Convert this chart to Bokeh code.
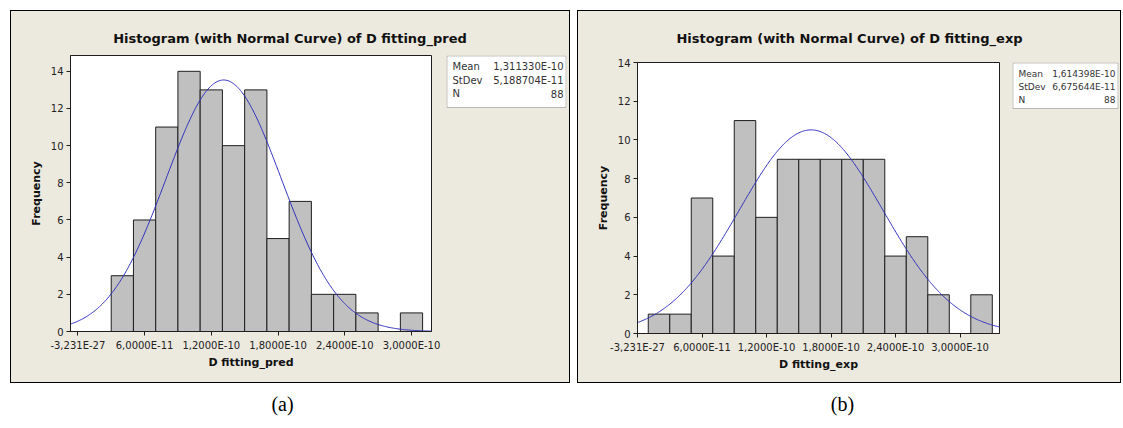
import numpy as np
from bokeh.plotting import figure
from bokeh.models import (Range1d, FixedTicker, CustomJSTickFormatter, Label,
                          Spacer, ColumnDataSource, BoxAnnotation)
from bokeh.layouts import row, column
from bokeh.embed import file_html
from bokeh.resources import INLINE

# ---------------- data ----------------
BIN_WIDTH = 2e-11
PRED_CENTERS = [4e-11, 6e-11, 8e-11, 1.0e-10, 1.2e-10, 1.4e-10, 1.6e-10,
                1.8e-10, 2.0e-10, 2.2e-10, 2.4e-10, 2.6e-10, 2.8e-10, 3.0e-10]
PRED_COUNTS = [3, 6, 11, 14, 13, 10, 13, 5, 7, 2, 2, 1, 0, 1]
EXP_CENTERS = [2e-11, 4e-11, 6e-11, 8e-11, 1.0e-10, 1.2e-10, 1.4e-10, 1.6e-10,
               1.8e-10, 2.0e-10, 2.2e-10, 2.4e-10, 2.6e-10, 2.8e-10, 3.0e-10, 3.2e-10]
EXP_COUNTS = [1, 1, 7, 4, 11, 6, 9, 9, 9, 9, 9, 4, 5, 2, 0, 2]

PRED_MEAN, PRED_SD, PRED_N = 1.311330e-10, 5.188704e-11, 88
EXP_MEAN, EXP_SD, EXP_N = 1.614398e-10, 6.675644e-11, 88
STAT_NAMES = ["Mean", "StDev", "N"]
PRED_STAT_VALUES = ["1,311330E-10", "5,188704E-11", "88"]
EXP_STAT_VALUES = ["1,614398E-10", "6,675644E-11", "88"]

X_TICKS = [0.0, 6e-11, 1.2e-10, 1.8e-10, 2.4e-10, 3.0e-10]
X_TICK_LABELS = ["-3,231E-27", "6,0000E-11", "1,2000E-10", "1,8000E-10",
                 "2,4000E-10", "3,0000E-10"]
Y_TICKS = [0, 2, 4, 6, 8, 10, 12, 14]

TITLES = ["Histogram (with Normal Curve) of D fitting_pred",
          "Histogram (with Normal Curve) of D fitting_exp"]
XLABELS = ["D fitting_pred", "D fitting_exp"]
YLABEL = "Frequency"
CAPTIONS = ["(a)", "(b)"]

# ---------------- style ----------------
BEIGE = "#ECE9DF"
BAR_FILL = "#C0C0C0"
DARK = "#1E1E1E"
CURVE = "#3030BE"
FONT = "DejaVu Sans"
HOST_BG = {"background-color": BEIGE}


def blank_fig(w, h, borders=(0, 0, 0, 0)):
    bl, br, bt, bb = borders
    f = figure(width=w, height=h, x_range=Range1d(0, 1), y_range=Range1d(0, 1),
               output_backend="svg", toolbar_location=None,
               min_border_left=bl, min_border_right=br,
               min_border_top=bt, min_border_bottom=bb,
               background_fill_color=BEIGE, border_fill_color=BEIGE,
               outline_line_color=None, styles=HOST_BG)
    f.axis.visible = False
    f.grid.visible = False
    return f


def panel(g, title, xlabel, centers, counts, mean, sd, n, stat_values, xr, yr):
    # --- title strip ---
    tf = blank_fig(g["W"], g["title_h"])
    tf.add_layout(Label(x=g["title_x"], y=g["title_y"], x_units="screen", y_units="screen",
                        text=title, text_align="center", text_baseline="middle",
                        text_font=FONT, text_font_size="13px", text_font_style="bold",
                        text_color="#111111"))

    # --- histogram ---
    bl, br, bt, bb = g["main_borders"]
    fh = g["H"] - bt - bb
    p = figure(width=g["main_w"], height=g["H"], x_range=Range1d(*xr), y_range=Range1d(*yr),
               output_backend="svg", toolbar_location=None,
               min_border_left=bl, min_border_right=br,
               min_border_top=bt, min_border_bottom=bb,
               background_fill_color="white", border_fill_color=BEIGE,
               outline_line_color=DARK, styles=HOST_BG)
    p.grid.visible = False

    lefts = [c - BIN_WIDTH / 2 for c, k in zip(centers, counts) if k > 0]
    rights = [c + BIN_WIDTH / 2 for c, k in zip(centers, counts) if k > 0]
    tops = [k for k in counts if k > 0]
    src = ColumnDataSource(dict(left=lefts, right=rights, top=tops,
                                bottom=[0] * len(tops)))
    p.quad(left="left", right="right", top="top", bottom="bottom", source=src,
           fill_color=BAR_FILL, line_color=DARK, line_width=1)

    # fitted normal curve defined by the stated Mean / StDev / N
    xs = np.linspace(xr[0], xr[1], 400)
    ys = n * BIN_WIDTH / (sd * np.sqrt(2 * np.pi)) * np.exp(-0.5 * ((xs - mean) / sd) ** 2)
    p.line(xs, ys, line_color=CURVE, line_width=1)

    xa, ya = p.xaxis[0], p.yaxis[0]
    xa.ticker = FixedTicker(ticks=X_TICKS)
    xa.formatter = CustomJSTickFormatter(
        args=dict(vals=X_TICKS, labels=X_TICK_LABELS),
        code="""let i = 0, b = 1e99;
for (let k = 0; k < vals.length; k++) { const d = Math.abs(vals[k] - tick); if (d < b) { b = d; i = k; } }
return labels[i];""")
    ya.ticker = FixedTicker(ticks=Y_TICKS)
    for ax in (xa, ya):
        ax.major_tick_in = 0
        ax.major_tick_out = 4
        ax.major_tick_line_color = DARK
        ax.minor_tick_line_color = None
        ax.axis_line_color = DARK
        ax.major_label_text_font = FONT
        ax.major_label_text_font_size = "10px"
        ax.major_label_text_color = "#222222"
        ax.axis_label_text_font = FONT
        ax.axis_label_text_font_size = "11px"
        ax.axis_label_text_font_style = "bold"
        ax.axis_label_text_color = "#111111"
    xa.axis_label = xlabel
    ya.axis_label = YLABEL
    xa.major_label_standoff = 4
    ya.major_label_standoff = 3
    xa.axis_label_standoff = 2
    ya.axis_label_standoff = 5

    # --- statistics box (same top/bottom borders as the histogram) ---
    sw = g["W"] - g["main_w"]
    sbl, sbr = g["stat_lr"]
    bw = sw - sbl - sbr
    bh = g["box_h"]
    sf = blank_fig(sw, g["H"], (sbl, sbr, bt, bb))
    sf.add_layout(BoxAnnotation(left=0.5, right=bw - 0.5, top=fh - 0.5, bottom=fh - bh,
                                left_units="screen", right_units="screen",
                                top_units="screen", bottom_units="screen",
                                fill_color="white", fill_alpha=1,
                                line_color="#333333", line_width=1))
    for name, val, ry in zip(STAT_NAMES, stat_values, g["stat_rows"]):
        sf.add_layout(Label(x=6, y=fh - ry, x_units="screen", y_units="screen",
                            text=name, text_align="left", text_baseline="middle",
                            text_font=FONT, text_font_size=g["stat_font"],
                            text_color="#333333"))
        sf.add_layout(Label(x=bw - 3, y=fh - ry, x_units="screen", y_units="screen",
                            text=val, text_align="right", text_baseline="middle",
                            text_font=FONT, text_font_size=g["stat_font"],
                            text_color="#333333"))

    return column(tf, row(p, sf, styles=HOST_BG), styles=HOST_BG)


def framed(inner, W, H):
    black = {"background-color": "#000000"}
    mid = column(Spacer(width=W - 2, height=1, styles=black), inner,
                 Spacer(width=W - 2, height=1, styles=black), styles=HOST_BG)
    return row(Spacer(width=1, height=H, styles=black), mid,
               Spacer(width=1, height=H, styles=black))


GEOM_A = dict(W=558, title_h=39, title_x=278.5, title_y=12, H=332, main_w=434,
              main_borders=(59, 14, 5, 51), stat_lr=(1, 3), box_h=52,
              stat_rows=(11, 25, 38), stat_font="10px")
GEOM_B = dict(W=542, title_h=39, title_x=271, title_y=12, H=332, main_w=433,
              main_borders=(59, 12, 12, 49), stat_lr=(1, 2), box_h=46,
              stat_rows=(11, 24, 37), stat_font="9px")

pa = panel(GEOM_A, TITLES[0], XLABELS[0], PRED_CENTERS, PRED_COUNTS, PRED_MEAN, PRED_SD,
           PRED_N, PRED_STAT_VALUES, (-6.6e-12, 3.18e-10), (0, 14.85))
pb = panel(GEOM_B, TITLES[1], XLABELS[1], EXP_CENTERS, EXP_COUNTS, EXP_MEAN, EXP_SD,
           EXP_N, EXP_STAT_VALUES, (0.0, 3.367e-10), (0, 14))

cap = figure(width=1121, height=40, x_range=Range1d(0, 1), y_range=Range1d(0, 1),
             output_backend="svg", toolbar_location=None, min_border=0,
             outline_line_color=None, background_fill_color="white",
             border_fill_color="white")
cap.axis.visible = False
cap.grid.visible = False
for txt, cx in zip(CAPTIONS, (282, 842)):
    cap.add_layout(Label(x=cx, y=20, x_units="screen", y_units="screen", text=txt,
                         text_align="center", text_baseline="middle",
                         text_font="Liberation Serif", text_font_size="20px",
                         text_color="#000000"))

layout = column(Spacer(height=10, width=10),
                row(Spacer(width=10, height=10), framed(pa, 560, 373),
                    Spacer(width=7, height=10), framed(pb, 544, 373)),
                cap)

open("out.html", "w").write(file_html(layout, INLINE))
